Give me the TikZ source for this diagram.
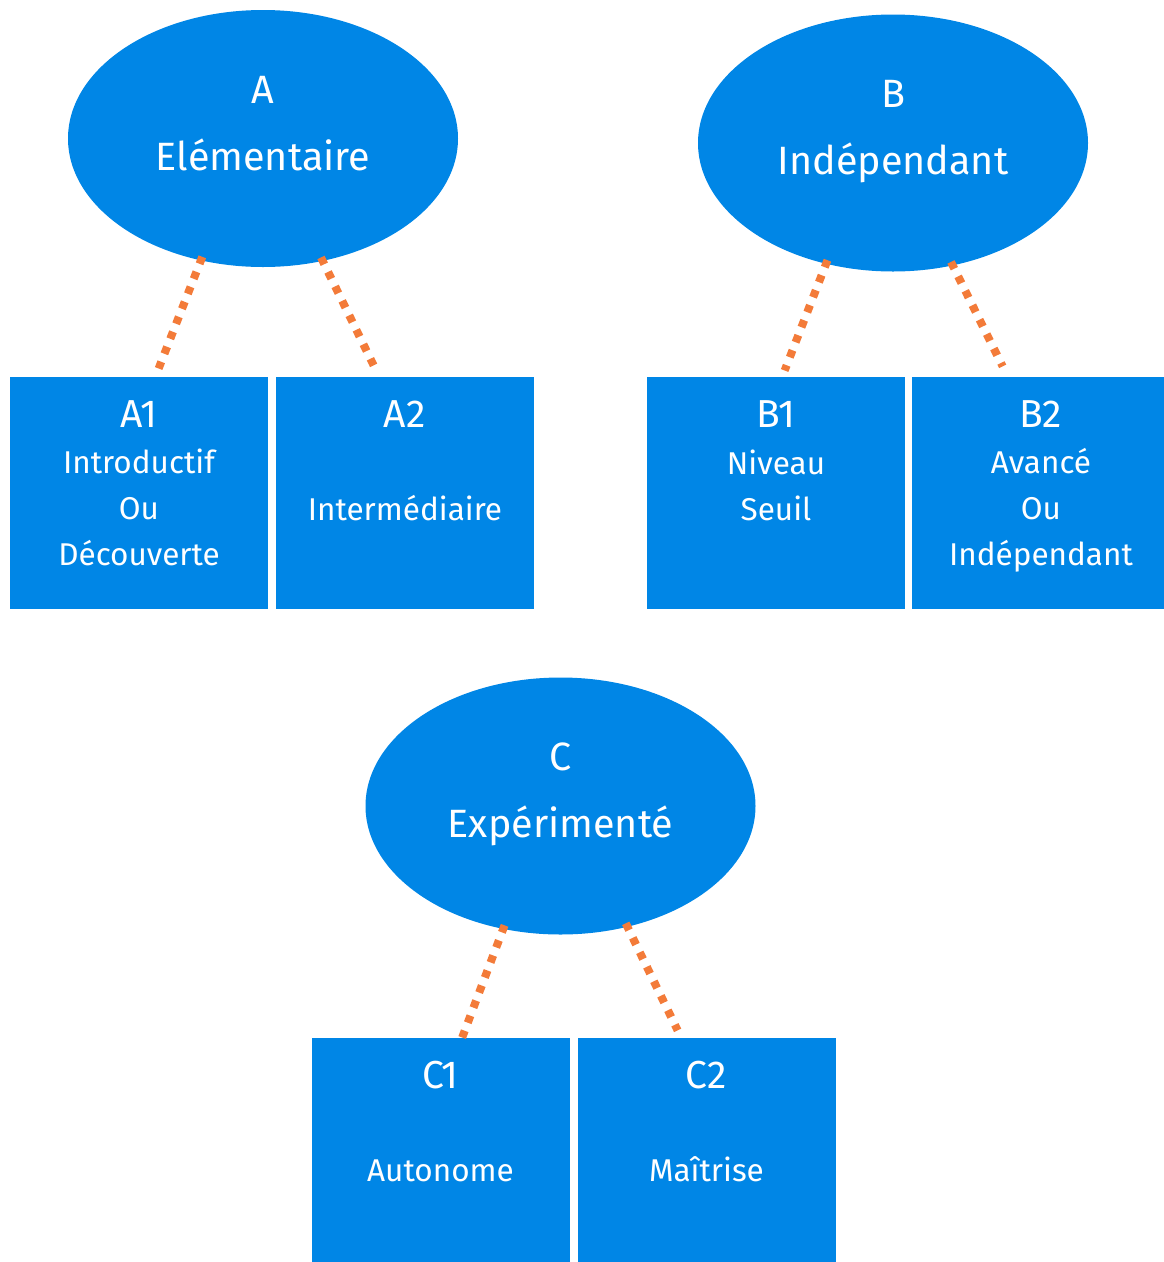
\documentclass[tikz,border=0pt]{standalone}
\usepackage{fontspec}
\setmainfont{Fira Sans}
\usetikzlibrary{shapes.geometric}
\definecolor{lvlblue}{RGB}{0,134,230}
\definecolor{dotorange}{RGB}{243,123,57}
\begin{document}
\begin{tikzpicture}[x=1pt,y=-1pt,
  level/.style={ellipse, fill=lvlblue, draw=none, minimum width=390pt, minimum height=257pt, inner sep=0pt, outer sep=0pt},
  sublevel/.style={rectangle, fill=lvlblue, draw=none, minimum width=258pt, minimum height=232pt, inner sep=0pt, outer sep=0pt},
  bigtxt/.style={text=white, font=\fontsize{39.5}{48}\selectfont, anchor=base, inner sep=0pt},
  titletxt/.style={text=white, font=\fontsize{39}{44}\selectfont, anchor=base, inner sep=0pt},
  bodytxt/.style={text=white, font=\fontsize{31.5}{46}\selectfont, anchor=base, align=center, inner sep=0pt},
  conn/.style={draw=dotorange, line width=8pt, dash pattern=on 7.5pt off 8.6pt, line cap=butt,
    shorten <=-3.75pt, shorten >=-3.75pt}
]
\useasboundingbox (0,0) rectangle (1164,1262);

% level ellipses
\node[level] (A) at (263,138.5) {};
\node[level] (B) at (893,143) {};
\node[level] (C) at (560.5,806) {};

% sub-level boxes
\node[sublevel] (A1) at (139,493) {};
\node[sublevel] (A2) at (405,493) {};
\node[sublevel] (B1) at (776,493) {};
\node[sublevel] (B2) at (1041,493) {};
\node[sublevel] (C1) at (440.5,1154) {};
\node[sublevel] (C2) at (706.5,1154) {};

% ellipse texts
\node[bigtxt] (At) at (263,103) {A};
\node[bigtxt] (An) at (263,170) {Elémentaire};
\node[bigtxt] (Bt) at (893,107.5) {B};
\node[bigtxt] (Bn) at (893,174.5) {Indépendant};
\node[bigtxt] (Ct) at (560.5,770.5) {C};
\node[bigtxt] (Cn) at (560.5,837.5) {Expérimenté};

% box texts (base = baseline of the last line)
\node[titletxt] (A1t) at (139,427) {A1};
\node[bodytxt] (A1n) at (139,565) {Introductif\\Ou\\Découverte};
\node[titletxt] (A2t) at (405,427) {A2};
\node[bodytxt] (A2n) at (405,520) {Intermédiaire};
\node[titletxt] (B1t) at (776,427) {B1};
\node[bodytxt] (B1n) at (776,520) {Niveau\\Seuil};
\node[titletxt] (B2t) at (1041,427) {B2};
\node[bodytxt] (B2n) at (1041,565) {Avancé\\Ou\\Indépendant};
\node[titletxt] (C1t) at (440.5,1088) {C1};
\node[bodytxt] (C1n) at (440.5,1181) {Autonome};
\node[titletxt] (C2t) at (706.5,1088) {C2};
\node[bodytxt] (C2n) at (706.5,1181) {Maîtrise};

% connector ends (centre of the last dot)
\coordinate (a1e) at (160,365);
\coordinate (a2e) at (372,362);
\coordinate (b1e) at (786,367);
\coordinate (b2e) at (1001,363);
\coordinate (c1e) at (463.5,1034);
\coordinate (c2e) at (676,1027);

% dotted connectors
\draw[conn] (A.243) -- (a1e);
\draw[conn] (A.296) -- (a2e);
\draw[conn] (B.241) -- (b1e);
\draw[conn] (B.296) -- (b2e);
\draw[conn] (C.245) -- (c1e);
\draw[conn] (C.299) -- (c2e);
\end{tikzpicture}
\end{document}
